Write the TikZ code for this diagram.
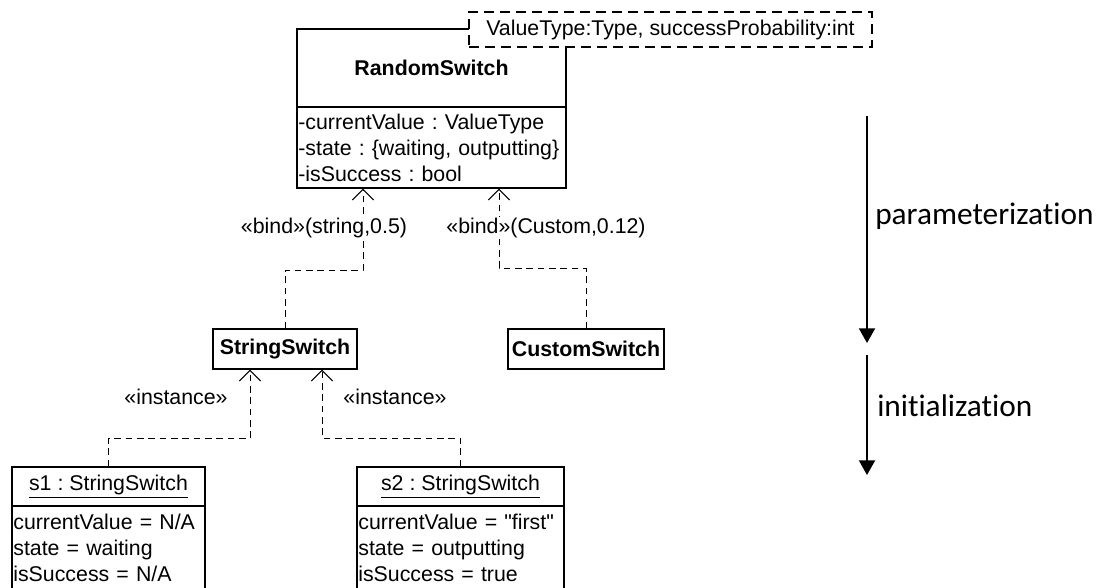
\documentclass[tikz,border=0pt]{standalone}
\usepackage{fontspec}
\setmainfont{Liberation Sans}
\newfontfamily\calibrifont[Ligatures=NoCommon]{Carlito}
\usetikzlibrary{arrows.meta}
\frenchspacing
\hyphenpenalty=10000
\tikzset{
	umlfont/.style={font=\fontsize{16}{19.5}\selectfont},
	classbox/.style={draw, line width=1pt, umlfont, inner xsep=1pt, inner ysep=0pt},
	attrbox/.style={classbox, align=left},
	realize/.style={line width=0.75pt, dash pattern=on 5pt off 3.5pt, -{Straight Barb[length=8pt,width=16pt]}},
	flowarrow/.style={line width=1.5pt, -{Triangle[length=11pt,width=12pt]}},
	flowlabel/.style={font=\calibrifont\fontsize{23.5}{28}\selectfont, anchor=west, inner sep=0pt}
}

\begin{document}
\begin{tikzpicture}[x=0.75pt, y=-0.75pt]
				\useasboundingbox (0,0) rectangle (1114,588);
				
				\node[classbox, minimum width=201.75pt, minimum height=58.5pt, font=\fontsize{16}{19.5}\selectfont\bfseries] (rs) at (431.5,68) {RandomSwitch};
				\node[attrbox, minimum width=201.75pt, minimum height=60.75pt, text width=199.75pt] (rsattr) at (431.5,147.5) {-currentValue : ValueType\\-state : \{waiting, outputting\}\\-isSuccess : bool};
				\node[classbox, dash pattern=on 7.5pt off 4.5pt, fill=white, minimum width=302.25pt, minimum height=26.25pt] (tpl) at (670.5,29.5) {ValueType:Type, successProbability:int};
				
				\node[classbox, minimum width=108pt, minimum height=30pt, font=\fontsize{16}{19.5}\selectfont\bfseries] (ss) at (285,349) {StringSwitch};
				\node[classbox, minimum width=117pt, minimum height=30pt, font=\fontsize{16}{19.5}\selectfont\bfseries] (cs) at (586,349) {CustomSwitch};
				
				\node[classbox, minimum width=144.75pt, minimum height=29.25pt] (s1) at (108.5,486.5) {\underline{s1 : StringSwitch}};
				\node[attrbox, minimum width=144.75pt, minimum height=62.25pt, text width=142.75pt] (s1attr) at (108.5,547.5) {currentValue = N/A\\state = waiting\\isSuccess = N/A};
				\node[classbox, minimum width=155.25pt, minimum height=29.25pt] (s2) at (460.5,486.5) {\underline{s2 : StringSwitch}};
				\node[attrbox, minimum width=155.25pt, minimum height=62.25pt, text width=153.25pt] (s2attr) at (460.5,547.5) {currentValue = \textquotedbl first\textquotedbl\\state = outputting\\isSuccess = true};
				
				\coordinate (bindL) at (363,270);
				\coordinate (bindR) at (499,268);
				\coordinate (instL) at (250,438);
				\coordinate (instR) at (322,438);
				
				\draw[realize] (ss.north) |- (bindL) -- (bindL |- rsattr.south);
				\draw[realize] (cs.north) |- (bindR) -- (bindR |- rsattr.south);
				\draw[realize] (s1.north) |- (instL) -- (instL |- ss.south);
				\draw[realize] (s2.north) |- (instR) -- (instR |- ss.south);
				
				\node[umlfont, fill=white, inner sep=1pt] (bindLlabel) at (324,228) {«bind»(string,0.5)};
				\node[umlfont, fill=white, inner sep=1pt] (bindRlabel) at (546,228) {«bind»(Custom,0.12)};
				\node[umlfont, inner sep=1pt] (instLlabel) at (176,397) {«instance»};
				\node[umlfont, inner sep=1pt] (instRlabel) at (395,397) {«instance»};
				
				\coordinate (paramtop) at (867,116);
				\coordinate (paramend) at (867,343);
				\coordinate (inittop) at (867,355);
				\coordinate (initend) at (867,475);
				\draw[flowarrow] (paramtop) -- (paramend);
				\draw[flowarrow] (inittop) -- (initend);
				\node[flowlabel] (param) at (875,216) {parameterization};
				\node[flowlabel] (init) at (877,406) {initialization};
			\end{tikzpicture}
\end{document}
